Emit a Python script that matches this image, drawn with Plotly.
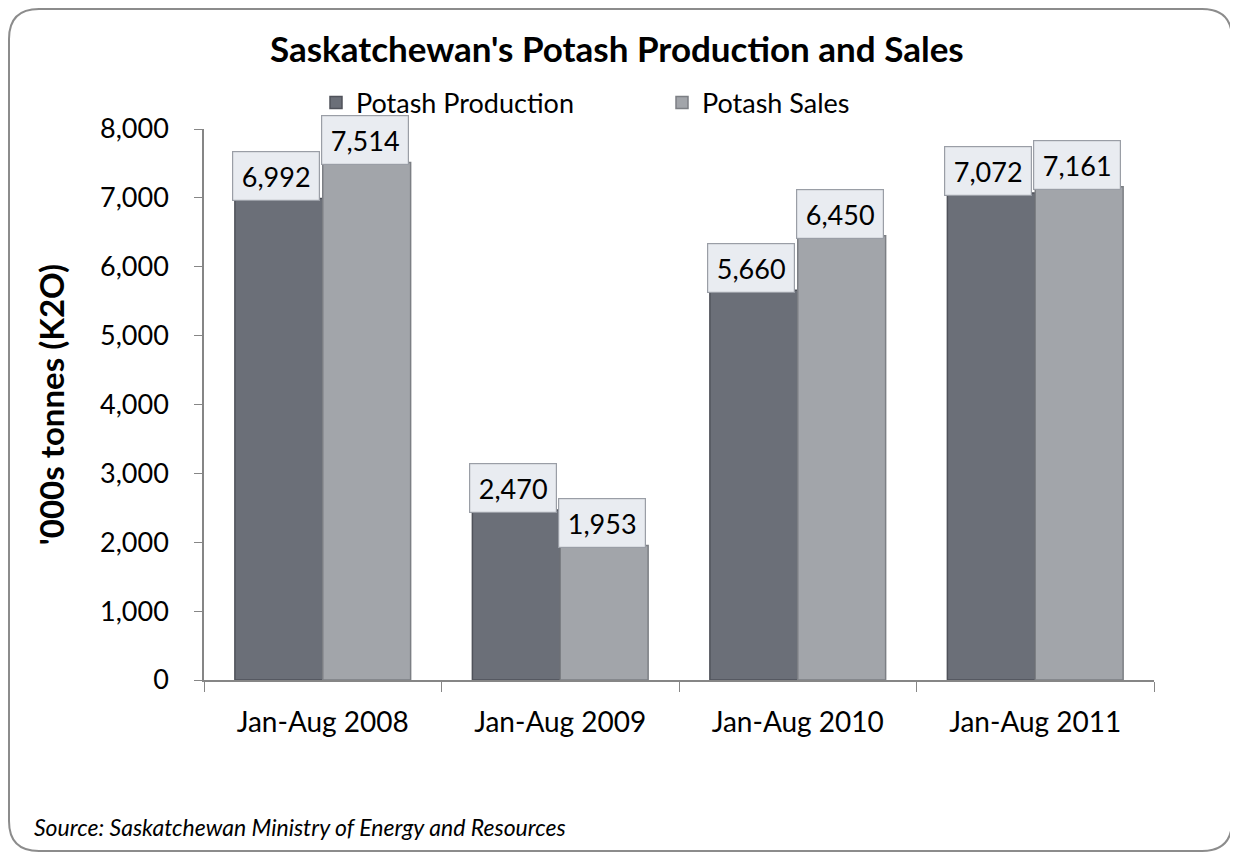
import plotly.graph_objects as go

categories = ['Jan-Aug 2008', 'Jan-Aug 2009', 'Jan-Aug 2010', 'Jan-Aug 2011']
production = [6992, 2470, 5660, 7072]
sales = [7514, 1953, 6450, 7161]

# page has an 8px body margin, so work in window pixels and shift
OFF = 8
W, H = 1238 - OFF, 856 - OFF
L, T = 204 - OFF, 129 - OFF
pw, ph = 950, 551
R, B = W - L - pw, H - T - ph


def px(x):
    return (x - OFF - L) / pw


def py(y):
    return (T + ph - (y - OFF)) / ph


fig = go.Figure()
fig.add_trace(go.Bar(x=categories, y=production, name='Potash Production',
                     marker=dict(color='#6b6f78', line=dict(color='#4f525a', width=1.5))))
fig.add_trace(go.Bar(x=categories, y=sales, name='Potash Sales',
                     marker=dict(color='#a2a5aa', line=dict(color='#7c7f84', width=1.5))))

# value boxes above bars
for vals, shift in ((production, -47), (sales, 42)):
    for c, v in zip(categories, vals):
        fig.add_annotation(x=c, y=v, xref='x', yref='y', text=f'{v:,}', showarrow=False,
                           xshift=shift, yshift=-3, yanchor='bottom', width=84, height=46,
                           bgcolor='#e9ecf1', bordercolor='#9a9ea6', borderwidth=1.2,
                           font=dict(size=27, color='#000000'))

fig.add_annotation(x=px(32), y=py(827), xref='paper', yref='paper', xanchor='left', yanchor='middle',
                   text='<i>Source: Saskatchewan Ministry of Energy and Resources</i>', showarrow=False,
                   font=dict(size=23, color='#000000'))

# rounded chart border
x0, x1, y0, y1, r = 9, 1232, 9, 851, 30
path = (f'M {px(x0 + r)} {py(y0)} L {px(x1 - r)} {py(y0)} Q {px(x1)} {py(y0)} {px(x1)} {py(y0 + r)} '
        f'L {px(x1)} {py(y1 - r)} Q {px(x1)} {py(y1)} {px(x1 - r)} {py(y1)} '
        f'L {px(x0 + r)} {py(y1)} Q {px(x0)} {py(y1)} {px(x0)} {py(y1 - r)} '
        f'L {px(x0)} {py(y0 + r)} Q {px(x0)} {py(y0)} {px(x0 + r)} {py(y0)} Z')
fig.add_shape(type='path', path=path, xref='paper', yref='paper',
              line=dict(color='#8c8c8c', width=2), layer='below')

fig.update_layout(
    width=W, height=H,
    margin=dict(l=L, r=R, t=T, b=B),
    paper_bgcolor='white', plot_bgcolor='white',
    font=dict(family='Lato, Open Sans, sans-serif', color='#000000'),
    title=dict(text="<b>Saskatchewan's Potash Production and Sales</b>", x=0.495, xanchor='center',
               y=1 - (50 - OFF) / H, yanchor='middle', font=dict(size=35)),
    barmode='group', bargap=0.26, bargroupgap=0,
    legend=dict(orientation='h', x=px(316), y=py(103), xanchor='left', yanchor='middle',
                font=dict(size=27), entrywidth=301, bgcolor='rgba(0,0,0,0)'),
    xaxis=dict(showline=True, linecolor='#868686', linewidth=1.5, ticks='outside', ticklen=10,
               tickcolor='#868686', tickson='boundaries', tickfont=dict(size=28), showgrid=False,
               ticklabelstandoff=17),
    yaxis=dict(range=[0, 8000], dtick=1000, tickformat=',', showline=True, linecolor='#868686',
               linewidth=1.5, ticks='outside', ticklen=8, tickcolor='#868686', showgrid=False,
               zeroline=False, tickfont=dict(size=27), ticklabelstandoff=20,
               title=dict(text="<b>'000s tonnes (K2O)</b>", font=dict(size=33), standoff=26)),
)

fig.write_html('out.html')
